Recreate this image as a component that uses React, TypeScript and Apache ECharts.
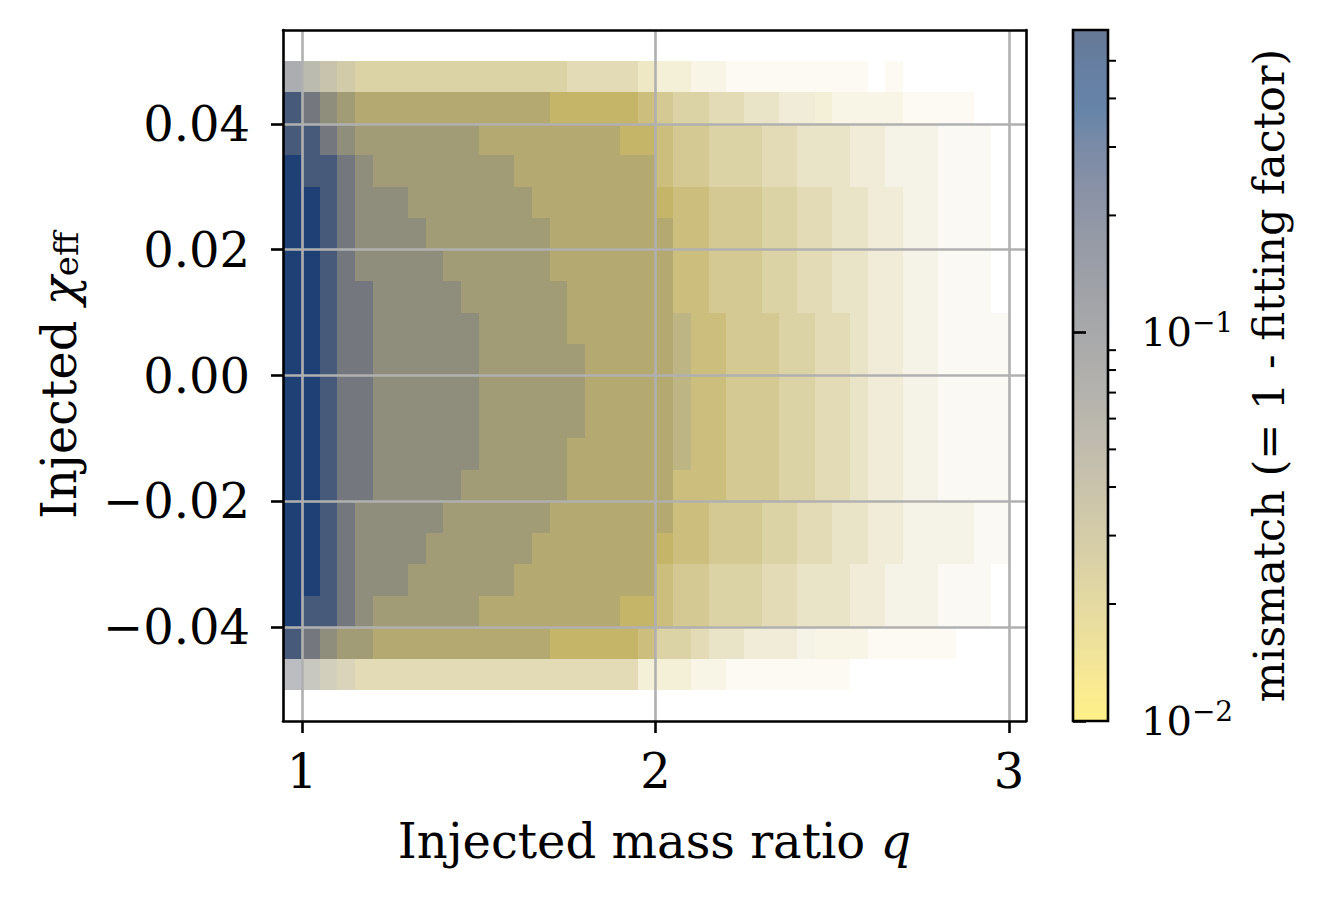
import React, { useEffect, useRef } from "react";
import * as echarts from "echarts";

// ---- axes ----
const X_MIN = 0.946;
const X_MAX = 3.048;
const Y_MIN = -0.0549;
const Y_MAX = 0.0549;
const xTicks = [1, 2, 3];
const yTicks = [-0.04, -0.02, 0, 0.02, 0.04];

// ---- colour bar (log mismatch) ----
const cbMin = 0.01;
const cbMax = 0.6;
const cbMajorTicks = [0.01, 0.1];
const cbMinorTicks = [0.02, 0.03, 0.04, 0.05, 0.06, 0.07, 0.08, 0.09, 0.2, 0.3, 0.4, 0.5];

// ---- binned point cloud ----
// column edges in q (42 columns), row edges in chi_eff, top to bottom (20 rows)
const qEdges = [
  0.946, 1.0, 1.05, 1.1, 1.15, 1.2, 1.25, 1.3, 1.35, 1.4, 1.45, 1.5, 1.55, 1.6, 1.65, 1.7, 1.75,
  1.8, 1.85, 1.9, 1.95, 2.0, 2.05, 2.1, 2.15, 2.2, 2.25, 2.3, 2.35, 2.4, 2.45, 2.5, 2.55, 2.6,
  2.65, 2.7, 2.75, 2.8, 2.85, 2.9, 2.95, 3.0, 3.048,
];
const chiEdges = [
  0.05, 0.045, 0.04, 0.035, 0.03, 0.025, 0.02, 0.015, 0.01, 0.005, 0, -0.005, -0.01, -0.015,
  -0.02, -0.025, -0.03, -0.035, -0.04, -0.045, -0.05,
];
// typical mismatch of the points in a cell, by level
const mismatchLevels = [0.012, 0.016, 0.021, 0.028, 0.037, 0.05, 0.07, 0.11, 0.22, 0.4];
// how much of a cell is inked by the semi-transparent points, by level
const coverageLevels = [0, 0.07, 0.15, 0.24, 0.34, 0.45, 0.56, 0.68, 0.8, 0.93];

// one digit per q column (groups of ten), one string per chi row (top to bottom)
const mismatchRows = [
  "7654333333 3333333333 2222222222 2222222222 22",
  "8765444444 4444433333 3333333333 2222222222 22",
  "8876555555 5444444443 3333333333 3333333333 33",
  "9887655555 5554444444 4333333333 3333333333 33",
  "9987666555 5555444444 4333333333 3333333333 33",
  "9987666655 5555544444 4433333333 3333333333 33",
  "9987666665 5555544444 4433333333 3333333333 33",
  "9987766666 5555554444 4433333333 3333333333 33",
  "9987766666 6555554444 4443333333 3333333333 33",
  "9987766666 6555555444 4443333333 3333333333 33",
  "9987766666 6555555444 4443333333 3333333333 33",
  "9987766666 6555555444 4443333333 3333333333 33",
  "9987766666 6555554444 4443333333 3333333333 33",
  "9987766666 5555554444 4433333333 3333333333 33",
  "9987666665 5555544444 4433333333 3333333333 33",
  "9987666655 5555444444 4333333333 3333333333 33",
  "9987666555 5554444444 4333333333 3333333333 33",
  "9887655555 5444444443 3333333333 3333333333 33",
  "8765544444 4444433333 3333333333 2222222222 22",
  "7654333333 3333333333 2222222222 2222222222 22",
];
const coverageRows = [
  "6666666666 6666665555 4332211111 1110100000 00",
  "9999999999 9999999999 8766554433 3222211110 00",
  "9999999999 9999999999 9877666554 4433222111 00",
  "9999999999 9999999999 9877666554 4433222111 00",
  "9999999999 9999999999 9988777665 5443322111 00",
  "9999999999 9999999999 9988777665 5443322111 00",
  "9999999999 9999999999 9988777665 5443322111 00",
  "9999999999 9999999999 9988777665 5443322111 00",
  "9999999999 9999999999 9988877766 5543322111 10",
  "9999999999 9999999999 9988877766 5543322111 10",
  "9999999999 9999999999 9988877766 5543322111 10",
  "9999999999 9999999999 9988877766 5543322111 10",
  "9999999999 9999999999 9988877766 5543322111 10",
  "9999999999 9999999999 9988877766 5543322111 10",
  "9999999999 9999999999 9988777665 5443322221 10",
  "9999999999 9999999999 9988777665 5443322221 10",
  "9999999999 9999999999 9877666554 4433222111 00",
  "9999999999 9999999999 9877666554 4433222111 00",
  "9999999999 9999999999 8665443332 2221111100 00",
  "5555555555 5555555555 3332211111 1100000000 00",
];

// cividis_r (yellow -> dark blue), used by the colour bar
const cividisR = [
  "#fde838", "#f3db4f", "#e1cc5c", "#d1bf66", "#c0b16d", "#b0a572", "#a19876", "#928c78",
  "#838178", "#757575", "#686a70", "#5b5f6d", "#4c556b", "#3c4a6b", "#273f6c", "#00346e",
  "#002a66", "#00204c",
];
// the same ramp as it looks when many semi-transparent dots of mixed colour overlap
const cellRamp = [
  "#fce43c", "#f0d746", "#e1ca4e", "#d2be55", "#c3b25c", "#b4a762", "#a59c68", "#96916e",
  "#888673", "#787976", "#686c74", "#586072", "#485670", "#374b70", "#244070", "#10346c",
  "#062a64", "#002050",
];
const POINT_ALPHA = 0.6;
const onWhite = (hex: string, a: number) => {
  const n = parseInt(hex.slice(1), 16);
  const mix = (v: number) => Math.round(255 - a * (255 - v));
  return `rgb(${mix((n >> 16) & 255)},${mix((n >> 8) & 255)},${mix(n & 255)})`;
};

const FONT = "'DejaVu Serif', serif";

function buildCells() {
  const cells: number[][] = [];
  for (let r = 0; r < chiEdges.length - 1; r++) {
    const mRow = mismatchRows[r].replace(/ /g, "");
    const cRow = coverageRows[r].replace(/ /g, "");
    for (let c = 0; c < qEdges.length - 1; c++) {
      const cov = coverageLevels[Number(cRow[c])];
      if (!cov) continue;
      const m = mismatchLevels[Number(mRow[c])];
      cells.push([qEdges[c], qEdges[c + 1], chiEdges[r + 1], chiEdges[r], Math.log10(m), cov]);
    }
  }
  return cells;
}

function buildOption() {
  const LOG_MIN = Math.log10(cbMin);
  const LOG_MAX = Math.log10(cbMax);
  const frameLine = { show: true, onZero: false, lineStyle: { color: "#000", width: 2.6 } };
  const grey = { color: "#b0b0b0", width: 2.6 };
  const yFmt = (v: number) => (v < 0 ? "\u2212" : "") + Math.abs(v).toFixed(2);

  return {
    animation: false,
    backgroundColor: "#ffffff",
    textStyle: { fontFamily: FONT },
    grid: [
      { left: 283, top: 30, width: 743, height: 691 },
      { left: 1073, top: 30, width: 35, height: 691 },
    ],
    xAxis: [
      {
        gridIndex: 0,
        type: "value",
        min: X_MIN,
        max: X_MAX,
        z: 5,
        axisLine: frameLine,
        axisTick: { show: true, customValues: xTicks, length: 12, lineStyle: { color: "#000", width: 2.6 } },
        axisLabel: {
          customValues: xTicks,
          formatter: (v: number) => String(v),
          fontFamily: FONT,
          fontSize: 48,
          color: "#000",
          margin: 26,
        },
        splitLine: { show: true, lineStyle: grey },
        name: "{r|Injected mass ratio }{i|q}",
        nameLocation: "middle",
        nameGap: 96,
        nameTextStyle: {
          rich: {
            r: { fontFamily: FONT, fontSize: 48, color: "#000" },
            i: { fontFamily: FONT, fontSize: 48, fontStyle: "italic", color: "#000" },
          },
        },
      },
      {
        gridIndex: 0,
        type: "value",
        min: X_MIN,
        max: X_MAX,
        position: "top",
        z: 5,
        axisLine: frameLine,
        axisTick: { show: false },
        axisLabel: { show: false },
        splitLine: { show: false },
      },
      { gridIndex: 1, type: "value", min: 0, max: 1, show: false },
    ],
    yAxis: [
      {
        gridIndex: 0,
        type: "value",
        min: Y_MIN,
        max: Y_MAX,
        z: 5,
        axisLine: frameLine,
        axisTick: { show: true, customValues: yTicks, length: 12, lineStyle: { color: "#000", width: 2.6 } },
        axisLabel: {
          customValues: yTicks,
          formatter: yFmt,
          fontFamily: FONT,
          fontSize: 48,
          color: "#000",
          margin: 33,
        },
        splitLine: { show: true, lineStyle: grey },
        name: "{a|Injected }{c|\u03c7}{s|eff}",
        nameLocation: "middle",
        nameGap: 200,
        nameTextStyle: {
          rich: {
            a: { fontFamily: FONT, fontSize: 48, color: "#000" },
            c: { fontFamily: FONT, fontSize: 48, fontStyle: "italic", color: "#000" },
            s: { fontFamily: FONT, fontSize: 34, color: "#000", verticalAlign: "bottom" },
          },
        },
      },
      {
        gridIndex: 0,
        type: "value",
        min: Y_MIN,
        max: Y_MAX,
        position: "right",
        z: 5,
        axisLine: frameLine,
        axisTick: { show: false },
        axisLabel: { show: false },
        splitLine: { show: false },
      },
      {
        gridIndex: 1,
        type: "value",
        min: LOG_MIN,
        max: LOG_MAX,
        position: "right",
        z: 5,
        axisLine: { show: false },
        axisTick: {
          show: true,
          customValues: cbMajorTicks.map((v) => Math.log10(v)),
          length: 13,
          lineStyle: { color: "#000", width: 2.6 },
        },
        axisLabel: {
          customValues: cbMajorTicks.map((v) => Math.log10(v)),
          formatter: (v: number) => `{b|10}{s|\u2212${Math.round(-v)}}`,
          margin: 33,
          rich: {
            b: { fontFamily: FONT, fontSize: 40, color: "#000" },
            s: { fontFamily: FONT, fontSize: 28, color: "#000", verticalAlign: "top", padding: [0, 0, 20, 0] },
          },
        },
        splitLine: { show: false },
        name: "mismatch (= 1 - fitting factor)",
        nameLocation: "middle",
        nameGap: 139,
        nameTextStyle: { fontFamily: FONT, fontSize: 43, color: "#000" },
      },
    ],
    visualMap: [
      {
        type: "continuous",
        seriesIndex: 2,
        dimension: 1,
        min: LOG_MIN,
        max: LOG_MAX,
        orient: "vertical",
        left: 1073,
        top: 30,
        padding: 0,
        itemWidth: 35,
        itemHeight: 691,
        calculable: false,
        hoverLink: false,
        inRange: { color: cividisR.map((c) => onWhite(c, POINT_ALPHA)) },
      },
      {
        type: "continuous",
        show: false,
        seriesIndex: 0,
        dimension: 4,
        min: LOG_MIN,
        max: LOG_MAX,
        inRange: { color: cellRamp },
      },
    ],
    graphic: [
      {
        type: "rect",
        z: 100,
        shape: { x: 1073, y: 30, width: 35, height: 691 },
        style: { fill: "none", stroke: "#000", lineWidth: 2.6 },
        silent: true,
      },
    ],
    series: [
      {
        type: "custom",
        xAxisIndex: 0,
        yAxisIndex: 0,
        silent: true,
        z: 2,
        encode: { x: [0, 1], y: [2, 3] },
        data: buildCells(),
        renderItem: (_params: any, api: any) => {
          const p0 = api.coord([api.value(0), api.value(3)]);
          const p1 = api.coord([api.value(1), api.value(2)]);
          const x0 = Math.round(p0[0]);
          const y0 = Math.round(p0[1]);
          const x1 = Math.round(p1[0]);
          const y1 = Math.round(p1[1]);
          return {
            type: "rect",
            shape: { x: x0, y: y0, width: x1 - x0, height: y1 - y0 },
            style: { fill: api.visual("color"), opacity: api.value(5) },
          };
        },
      },
      {
        type: "custom",
        xAxisIndex: 2,
        yAxisIndex: 2,
        silent: true,
        z: 6,
        data: cbMinorTicks.map((v) => [1, Math.log10(v)]),
        renderItem: (_params: any, api: any) => {
          const p = api.coord([api.value(0), api.value(1)]);
          return {
            type: "line",
            shape: { x1: p[0], y1: p[1], x2: p[0] + 8, y2: p[1] },
            style: { stroke: "#000", lineWidth: 2 },
          };
        },
      },
      { type: "scatter", xAxisIndex: 2, yAxisIndex: 2, data: [], silent: true },
    ],
  };
}

export default function App() {
  const ref = useRef<HTMLDivElement>(null);
  useEffect(() => {
    if (!ref.current) return;
    const chart = echarts.init(ref.current, undefined, { renderer: "svg" });
    chart.setOption(buildOption() as any);
    return () => chart.dispose();
  }, []);
  return (
    <div
      ref={ref}
      style={{ position: "fixed", left: 0, top: 0, width: 1321, height: 902, background: "#fff" }}
    />
  );
}
